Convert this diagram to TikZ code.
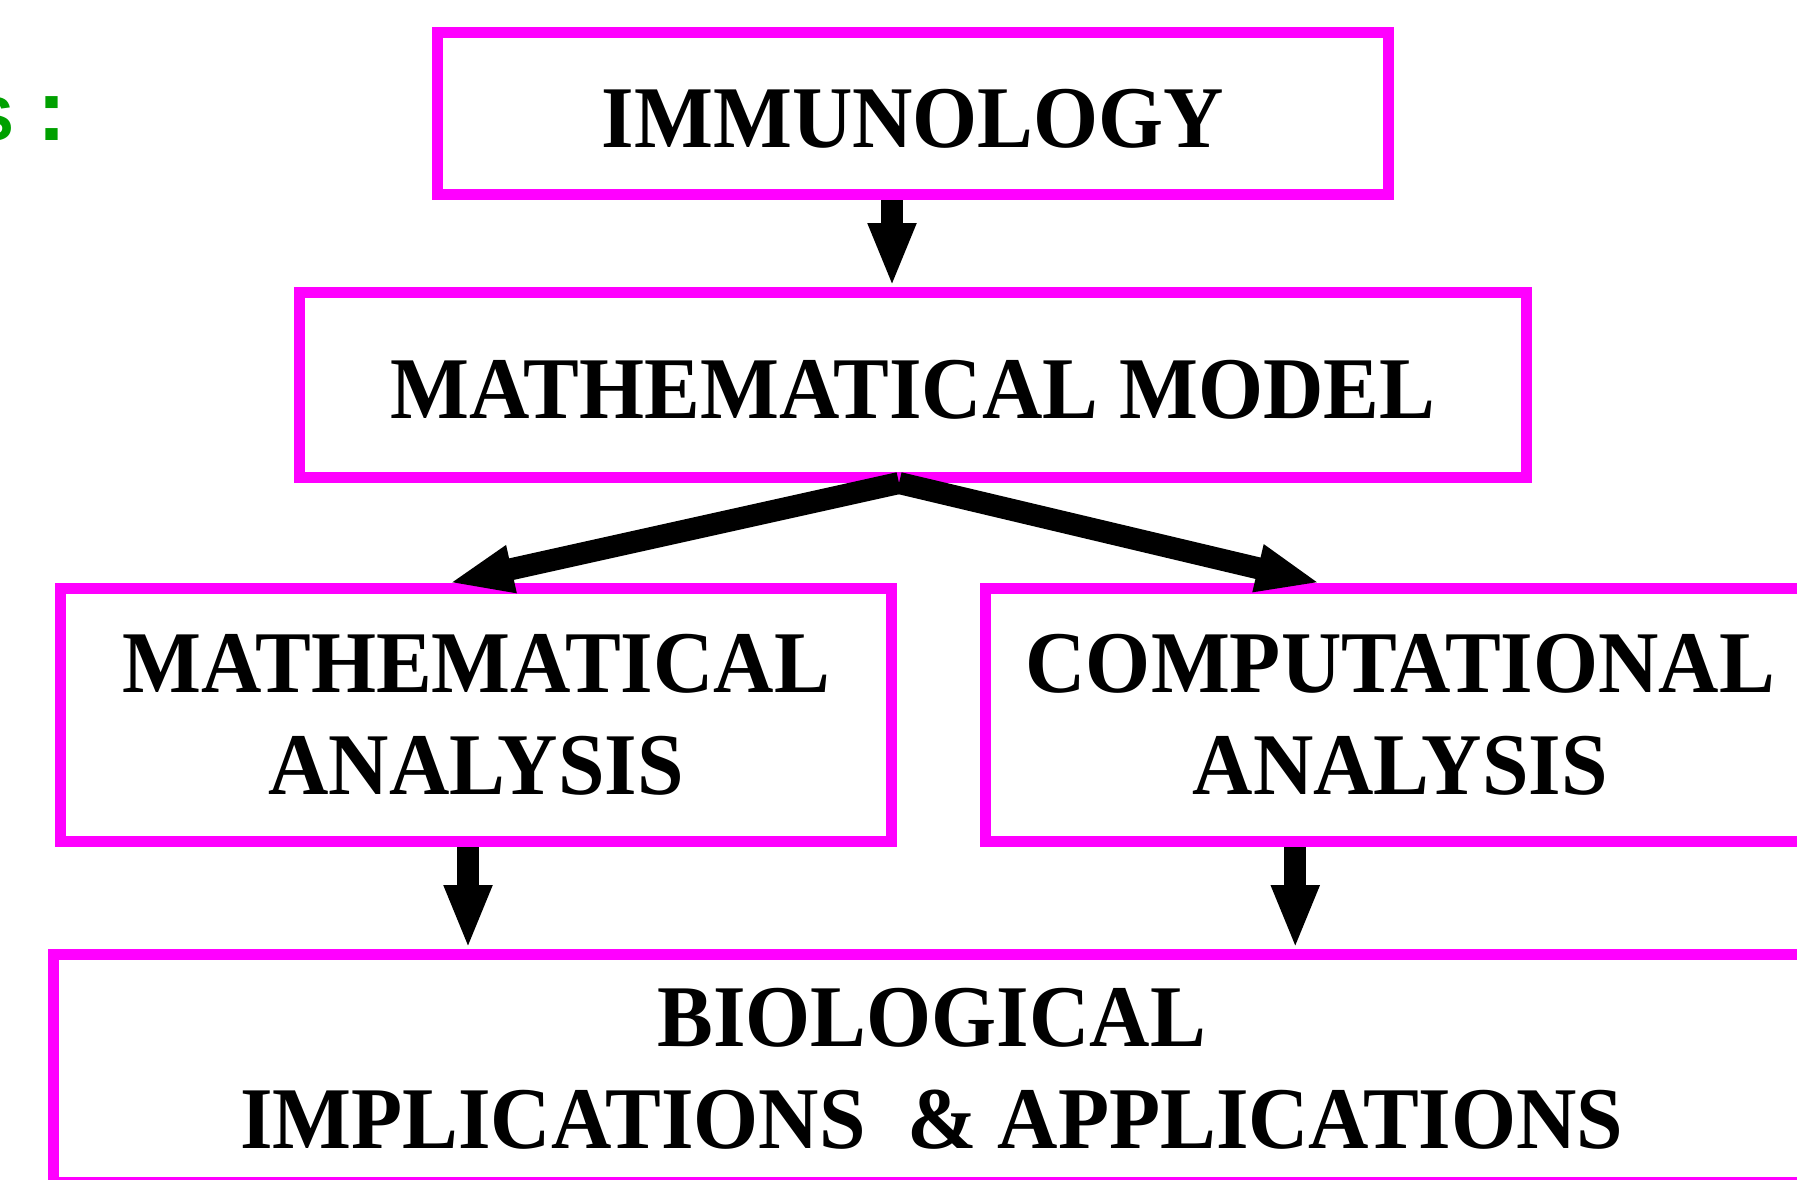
\documentclass[tikz,border=0pt]{standalone}
\usepackage{fontspec}
\setmainfont{Liberation Serif}[FakeStretch=0.95]
\newfontfamily\headsans{Liberation Sans}
\usetikzlibrary{arrows.meta}
\definecolor{boxpink}{RGB}{255,0,255}
\definecolor{stepgreen}{RGB}{0,160,0}

\begin{document}
\begin{tikzpicture}[x=0.5pt,y=-0.5pt,
  box/.style={draw=boxpink,line width=5.5pt,rectangle,inner sep=0pt,align=center,
    font=\fontsize{44}{51}\selectfont\bfseries},
  oneline/.style={text height=33.5pt,text depth=0pt},
  bigarrow/.style={line width=11pt,-{Triangle[length=32pt,width=22pt]}}]
\useasboundingbox (0,0) rectangle (1797,1179);
% heading, cut off by the left border
\node[anchor=base east,inner sep=0pt,text=stepgreen,
  font=\headsans\fontsize{31}{36}\selectfont\bfseries] (head) at (67,140)
  {S\fontsize{43.5}{50}\selectfont\ :};
\node[box,oneline,minimum width=475.5pt,minimum height=81pt] (imm) at (913,113.5) {IMMUNOLOGY};
\node[box,oneline,minimum width=613.5pt,minimum height=92.5pt] (model) at (913,385) {MATHEMATICAL MODEL};
\node[box,minimum width=415.5pt,minimum height=126.5pt] (ma) at (476,715) {MATHEMATICAL\\ANALYSIS};
\node[box,minimum width=414.75pt,minimum height=126.5pt] (ca) at (1400.25,715) {COMPUTATIONAL\\ANALYSIS};
\node[box,minimum width=878.25pt,minimum height=114pt] (bio) at (931.75,1068.5) {BIOLOGICAL\\IMPLICATIONS~ \& APPLICATIONS};
% arrows
\draw[bigarrow] ([xshift=-10.5pt]imm.south) -- ([xshift=-10.5pt]model.north);
\draw[bigarrow] ([xshift=-7pt]model.south) -- ([xshift=-13.5pt]ma.north);
\draw[bigarrow] ([xshift=-7pt]model.south) -- ([xshift=-40pt]ca.north);
\draw[bigarrow] ([xshift=-4pt]ma.south) -- ([xshift=-4pt]ma.south |- bio.north);
\draw[bigarrow] ([xshift=-52.5pt]ca.south) -- ([xshift=-52.5pt]ca.south |- bio.north);
\end{tikzpicture}
\end{document}
